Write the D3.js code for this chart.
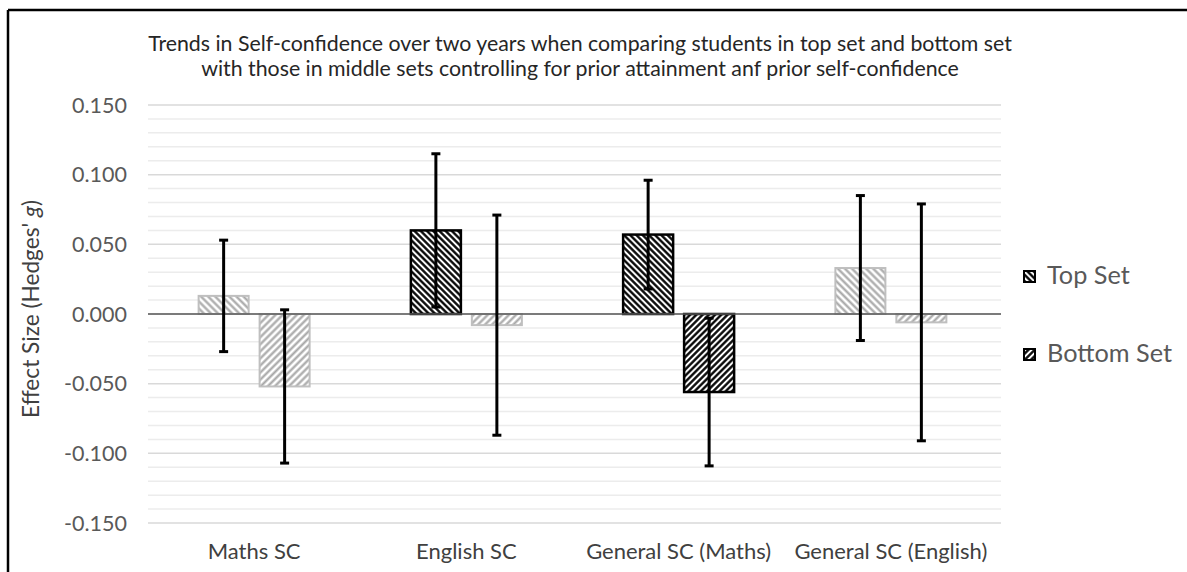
<!DOCTYPE html>
<html>
<head>
<meta charset="utf-8">
<script src="https://cdn.jsdelivr.net/npm/d3@7"></script>
<style>
  html, body { margin: 0; padding: 0; background: #fff; }
  svg { display: block; }
  text { font-family: Lato, 'Open Sans', sans-serif; }
</style>
</head>
<body>
<svg id="chart" width="1187" height="572"></svg>
<script>
// ---- data ----
const categories = ["Maths SC", "English SC", "General SC (Maths)", "General SC (English)"];
const seriesNames = ["Top Set", "Bottom Set"];
const topSetValues = [0.013, 0.060, 0.057, 0.033];
const topSetErrors = [0.040, 0.055, 0.039, 0.052];
const bottomSetValues = [-0.052, -0.008, -0.056, -0.006];
const bottomSetErrors = [0.055, 0.079, 0.053, 0.085];
const yTicks = [-0.15, -0.1, -0.05, 0, 0.05, 0.1, 0.15];
const titleLines = [
  "Trends in Self-confidence over two years when comparing students in top set and bottom set",
  "with those in middle sets controlling for prior attainment anf prior self-confidence"
];
const yAxisTitle = "Effect Size (Hedges' ";
const yAxisTitleItalic = "g";

// ---- build ----
const svg = d3.select("#chart");
const W = 1187, H = 572;
const plot = { left: 148, right: 997, top: 105, bottom: 523 };

// scale a group's font size so that a reference text element reaches a target width
function fitFont(sel, refNode, target, base) {
  sel.attr("font-size", base);
  const w = refNode.getComputedTextLength();
  const size = base * target / w;
  sel.attr("font-size", size);
}

const rows = [];
categories.forEach((c, i) => {
  rows.push({ cat: c, series: seriesNames[0], value: topSetValues[i], err: topSetErrors[i] });
  rows.push({ cat: c, series: seriesNames[1], value: bottomSetValues[i], err: bottomSetErrors[i] });
});
rows.forEach(d => { d.sig = (d.value - d.err > 0) || (d.value + d.err < 0); });

const x0 = d3.scaleBand().domain(categories).range([plot.left, plot.right]).paddingInner(0).paddingOuter(0);
const inner = 111;
const x1 = d3.scaleBand().domain(seriesNames)
  .range([(x0.bandwidth() - inner) / 2, (x0.bandwidth() + inner) / 2]).paddingInner(0.18);
const y = d3.scaleLinear().domain([-0.15, 0.15]).range([plot.bottom, plot.top]);

// patterns
const defs = svg.append("defs");
function makePattern(id, angle, color, bg, size, sw) {
  const p = defs.append("pattern").attr("id", id).attr("patternUnits", "userSpaceOnUse")
    .attr("width", size).attr("height", size)
    .attr("patternTransform", `rotate(${angle})`);
  p.append("rect").attr("width", size).attr("height", size).attr("fill", bg);
  p.append("line").attr("x1", size / 2).attr("x2", size / 2).attr("y1", -1).attr("y2", size + 1)
    .attr("stroke", color).attr("stroke-width", sw);
}
makePattern("darkTop", -45, "#000", "#fff", 4.4, 2.3);
makePattern("darkBottom", 45, "#000", "#fff", 4.4, 2.3);
makePattern("grayTop", -45, "#a6a6a6", "#fff", 5, 2.2);
makePattern("grayBottom", 45, "#a6a6a6", "#fff", 5, 2.2);

// border
svg.append("line").attr("x1", 8).attr("x2", W).attr("y1", 10).attr("y2", 10)
  .attr("stroke", "#000").attr("stroke-width", 2.5);
svg.append("line").attr("x1", 8).attr("x2", 8).attr("y1", 10).attr("y2", H)
  .attr("stroke", "#000").attr("stroke-width", 2.5);

// gridlines (minor every 0.01, major every 0.05)
const minorTicks = d3.range(-15, 16).map(v => v / 100);
svg.append("g").selectAll("line").data(minorTicks).join("line")
  .attr("x1", plot.left).attr("x2", plot.right + 4)
  .attr("y1", d => y(d)).attr("y2", d => y(d))
  .attr("stroke", d => (Math.round(d * 100) % 5 === 0) ? "#d9d9d9" : "#ececec")
  .attr("stroke-width", 1.5);

// y axis labels
const yAxis = d3.axisLeft(y).tickValues(yTicks).tickFormat(d3.format(".3f")).tickSize(0).tickPadding(0);
const gy = svg.append("g").attr("transform", `translate(127,0)`).call(yAxis);
gy.select(".domain").remove();
const yLabels = gy.selectAll("text").attr("fill", "#595959")
  .attr("font-family", "Lato, 'Open Sans', sans-serif")
  .attr("dy", "0.34em")
  .text(d => d3.format(".3f")(d).replace("−", "-"));
fitFont(yLabels, yLabels.filter(d => d === 0.15).node(), 55, 20);

// bars
const bars = svg.append("g");
rows.forEach(d => {
  const pat = (d.sig ? "dark" : "gray") + (d.series === seriesNames[0] ? "Top" : "Bottom");
  const bx = x0(d.cat) + x1(d.series);
  bars.append("rect")
    .attr("x", bx).attr("width", x1.bandwidth())
    .attr("y", y(Math.max(0, d.value)))
    .attr("height", Math.abs(y(d.value) - y(0)))
    .attr("fill", `url(#${pat})`)
    .attr("stroke", d.sig ? "#000" : "#bfbfbf")
    .attr("stroke-width", d.sig ? 2.5 : 2);
});

// zero axis line
svg.append("line").attr("x1", plot.left).attr("x2", plot.right + 4)
  .attr("y1", y(0)).attr("y2", y(0)).attr("stroke", "#595959").attr("stroke-width", 1.5);

// error bars
const eb = svg.append("g");
rows.forEach(d => {
  const cx = x0(d.cat) + x1(d.series) + x1.bandwidth() / 2;
  eb.append("line").attr("x1", cx).attr("x2", cx)
    .attr("y1", y(d.value + d.err)).attr("y2", y(d.value - d.err))
    .attr("stroke", "#000").attr("stroke-width", 3);
  [d.value + d.err, d.value - d.err].forEach(v => {
    eb.append("line").attr("x1", cx - 4.5).attr("x2", cx + 4.5)
      .attr("y1", y(v)).attr("y2", y(v)).attr("stroke", "#000").attr("stroke-width", 3);
  });
});

// x labels
const xAxis = d3.axisBottom(x0).tickSize(0).tickPadding(0);
const gx = svg.append("g").attr("transform", `translate(0,543)`).call(xAxis);
gx.select(".domain").remove();
const xLabels = gx.selectAll("text").attr("fill", "#404040")
  .attr("font-family", "Lato, 'Open Sans', sans-serif");
fitFont(xLabels, xLabels.filter(d => d === categories[3]).node(), 193, 19);

// title
const titles = svg.append("g").selectAll("text").data(titleLines).join("text")
  .attr("x", 580).attr("y", (d, i) => 51 + i * 25)
  .attr("text-anchor", "middle").attr("fill", "#262626")
  .text(d => d);
fitFont(titles, titles.nodes()[0], 864, 19);

// y axis title
const yt = svg.append("text").attr("transform", "translate(39,309) rotate(-90)")
  .attr("text-anchor", "middle").attr("fill", "#404040");
yt.append("tspan").text(yAxisTitle);
yt.append("tspan").attr("font-style", "italic").text(yAxisTitleItalic);
yt.append("tspan").text(")");
fitFont(yt, yt.node(), 218, 19);

// legend
const legend = svg.append("g");
const legendTexts = [];
seriesNames.forEach((s, i) => {
  const ly = 276 + i * 78;
  legend.append("rect").attr("x", 1024).attr("y", ly - 5).attr("width", 11).attr("height", 11)
    .attr("fill", `url(#dark${i === 0 ? "Top" : "Bottom"})`).attr("stroke", "#000").attr("stroke-width", 2);
  legendTexts.push(legend.append("text").attr("x", 1047).attr("y", ly + 8)
    .attr("fill", "#595959").text(s).node());
});
fitFont(d3.selectAll(legendTexts), legendTexts[1], 125, 22);
</script>
</body>
</html>
